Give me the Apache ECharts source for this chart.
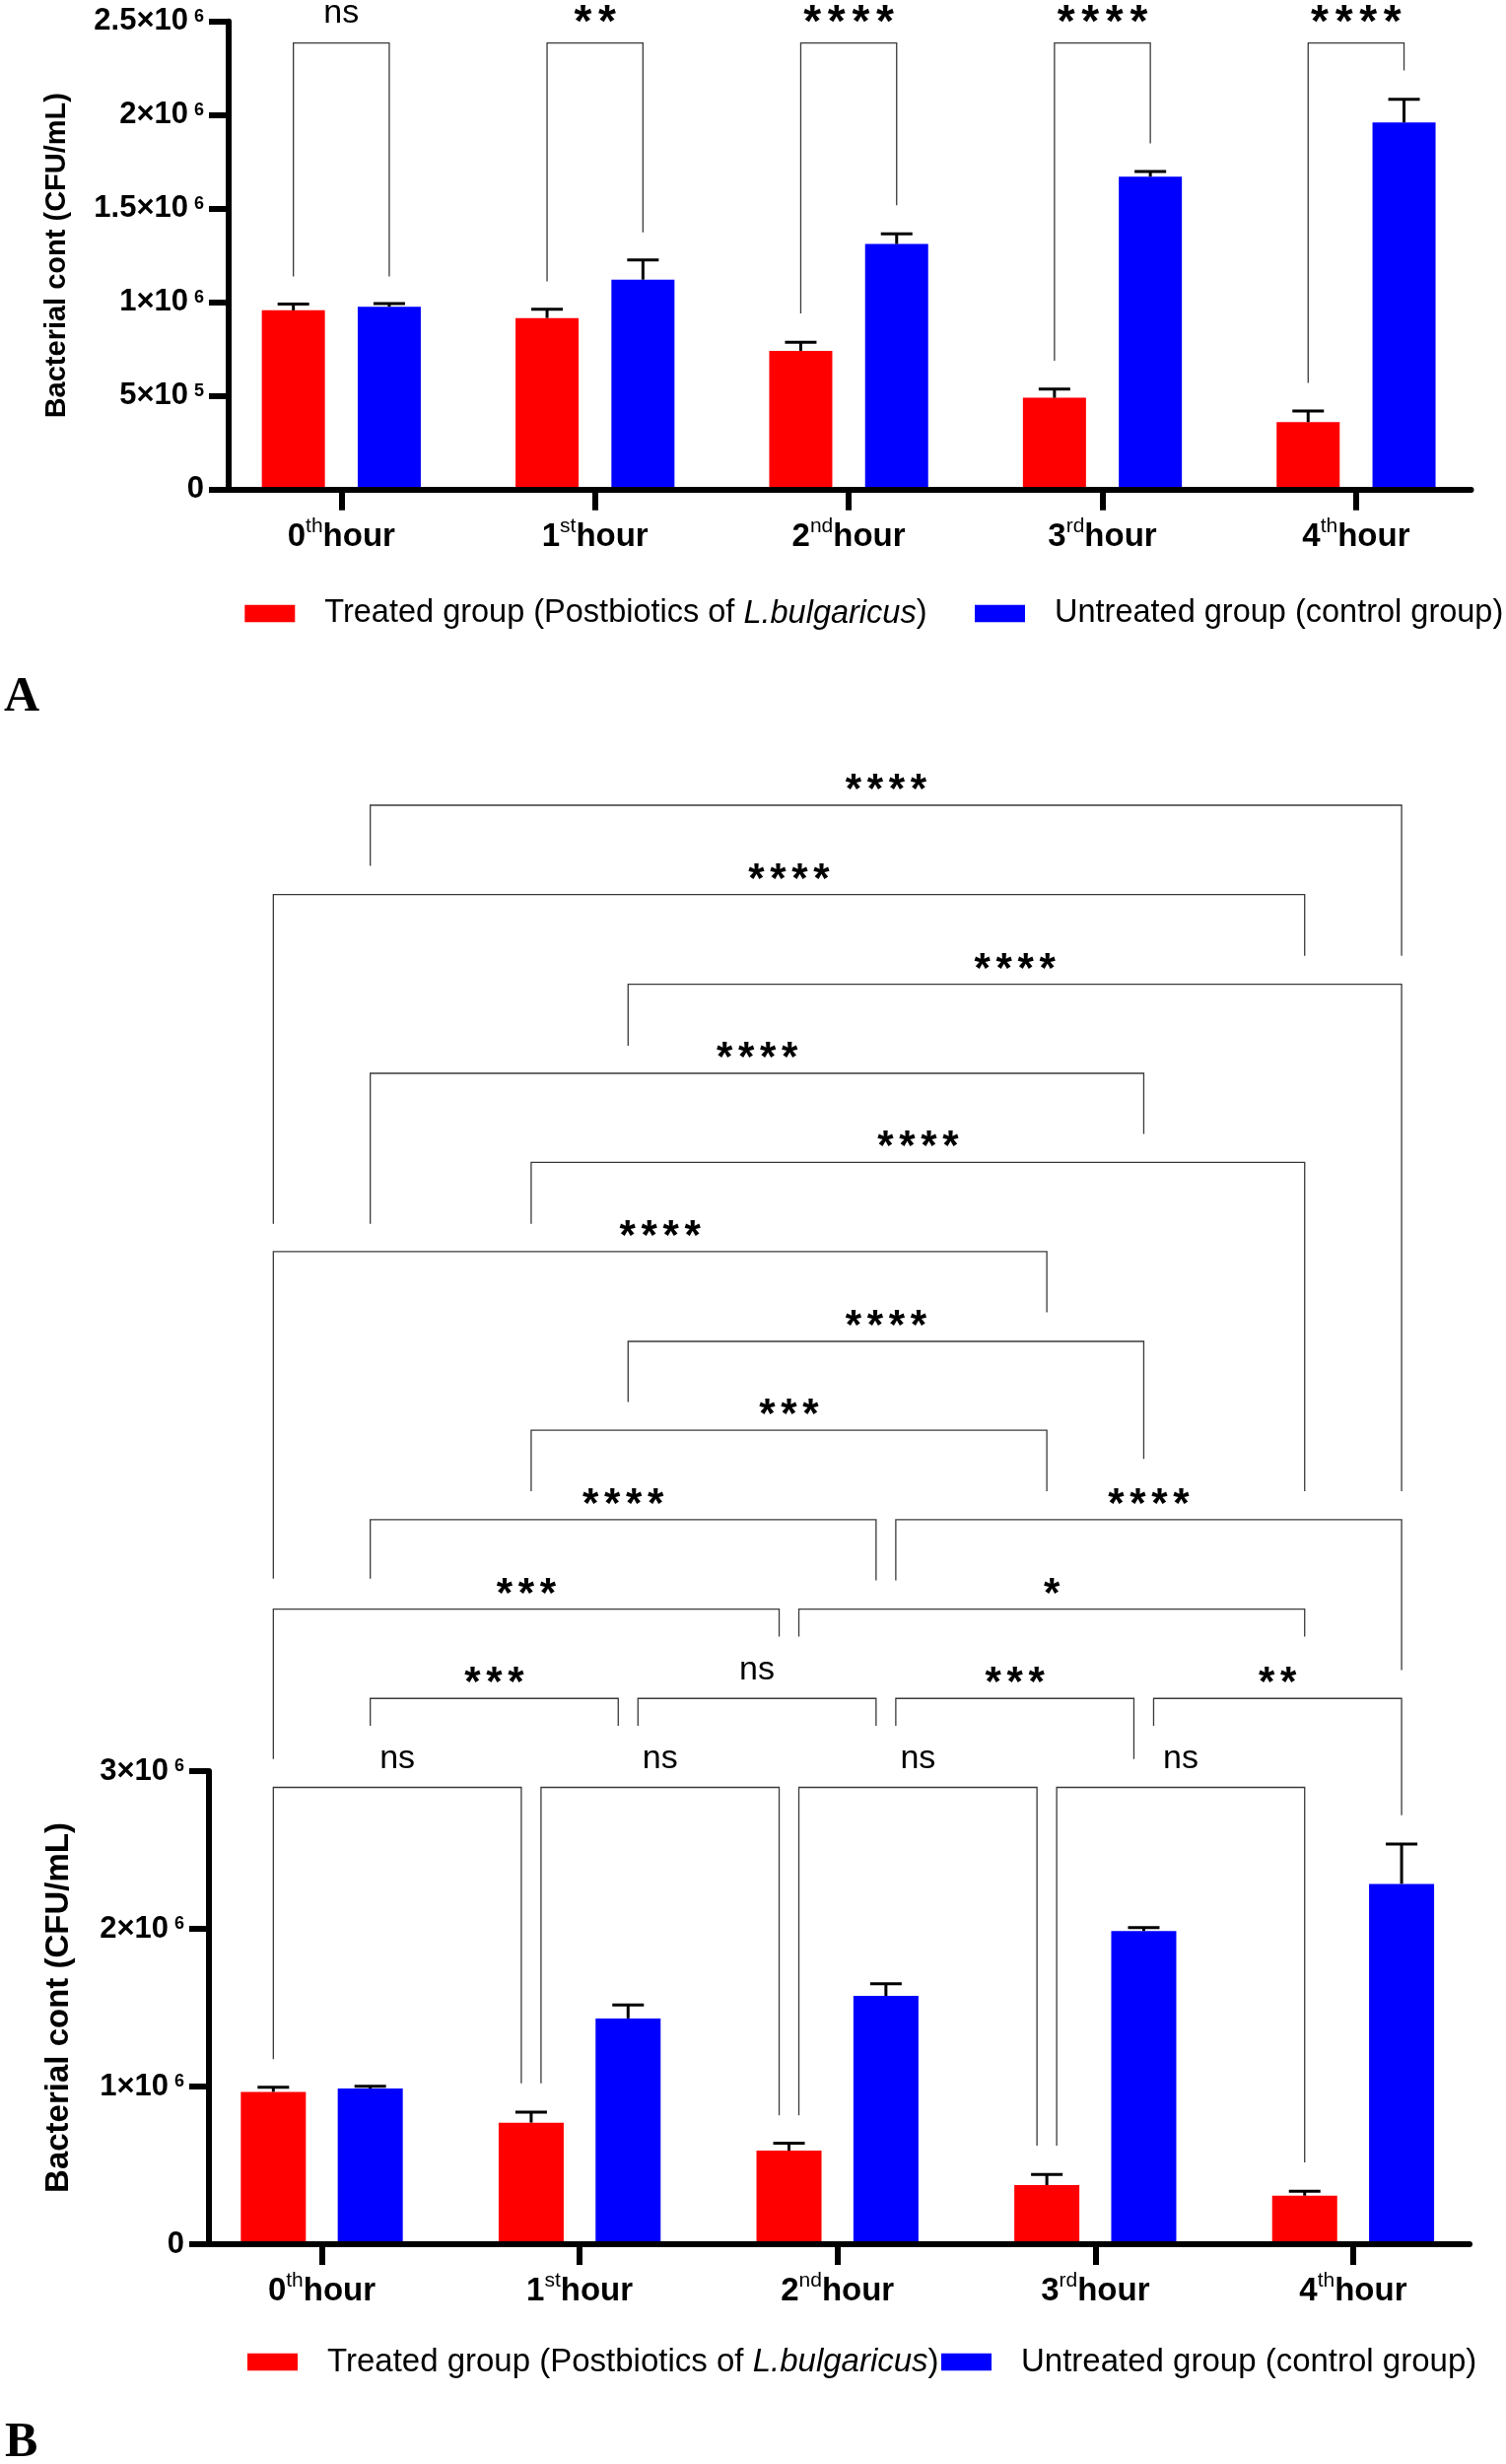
<!DOCTYPE html>
<html><head><meta charset="utf-8">
<script src="https://cdn.jsdelivr.net/npm/echarts@6/dist/echarts.min.js"></script>
<style>html,body{margin:0;padding:0;background:#fff}#c{width:1528px;height:2500px}</style>
</head><body><div id="c"></div>
<script>
// ---------- data ----------
const hours = ['0', '1', '2', '3', '4'];
const ordinalSuffix = ['th', 'st', 'nd', 'rd', 'th'];
const seriesNames = ['Treated group (Postbiotics of L.bulgaricus)', 'Untreated group (control group)'];

// Panel A
const treatedA = [957000, 916000, 741000, 490000, 360000];
const treatedA_sd = [34000, 47000, 46000, 47000, 59000];
const untreatedA = [976000, 1121000, 1311000, 1671000, 1960000];
const untreatedA_sd = [17000, 105000, 54000, 28000, 124000];
const yTicksA = [[0, '0', ''], [500000, '5×10', '5'], [1000000, '1×10', '6'], [1500000, '1.5×10', '6'], [2000000, '2×10', '6'], [2500000, '2.5×10', '6']];

// Panel B
const treatedB = [966000, 771000, 594000, 375000, 308000];
const treatedB_sd = [30000, 67000, 46000, 67000, 28000];
const untreatedB = [987000, 1432000, 1575000, 1986000, 2285000];
const untreatedB_sd = [15000, 85000, 76000, 22000, 252000];
const yTicksB = [[0, '0', ''], [1000000, '1×10', '6'], [2000000, '2×10', '6'], [3000000, '3×10', '6']];

// Significance brackets: [leftBar, leftShift, rightBar, rightShift, level, leftLegEnd, rightLegEnd, label]
// bar = hourIndex*2 + group (0 treated, 1 untreated); shift = -1/0/1 for shared legs
const bracketsA = [
  [0, 0, 1, 0, 2385000, 1138000, 1138000, 'ns'],
  [2, 0, 3, 0, 2385000, 1111000, 1374000, '**'],
  [4, 0, 5, 0, 2385000, 941000, 1518000, '****'],
  [6, 0, 7, 0, 2385000, 688000, 1849000, '****'],
  [8, 0, 9, 0, 2385000, 569000, 2238000, '****']
];
const bracketsB = [
  [1, 0, 9, 0, 9125000, 8740000, 8170000, '****'],
  [0, 0, 8, 0, 8558000, 6470000, 8170000, '****'],
  [3, 0, 9, 0, 7990000, 7600000, 4775000, '****'],
  [1, 0, 7, 0, 7425000, 6470000, 7040000, '****'],
  [2, 0, 8, 0, 6860000, 6470000, 4775000, '****'],
  [0, 0, 6, 0, 6294000, 4220000, 5910000, '****'],
  [3, 0, 7, 0, 5725000, 5340000, 4980000, '****'],
  [2, 0, 6, 0, 5162000, 4775000, 4775000, '***'],
  [1, 0, 5, -1, 4594000, 4220000, 4210000, '****'],
  [5, 1, 9, 0, 4594000, 4210000, 3640000, '****'],
  [0, 0, 4, -1, 4027000, 3077000, 3853000, '***'],
  [4, 1, 8, 0, 4027000, 3853000, 3853000, '*'],
  [1, 0, 3, -1, 3461000, 3287000, 3287000, '***'],
  [3, 1, 5, -1, 3461000, 3287000, 3287000, 'ns'],
  [5, 1, 7, -1, 3461000, 3287000, 3077000, '***'],
  [7, 1, 9, 0, 3461000, 3287000, 2721000, '**'],
  [0, 0, 2, -1, 2897000, 1173000, 1021000, 'ns'],
  [2, 1, 4, -1, 2897000, 1021000, 817000, 'ns'],
  [4, 1, 6, -1, 2897000, 817000, 625000, 'ns'],
  [6, 1, 8, 0, 2897000, 625000, 519000, 'ns']
];

// ---------- styles ----------
const FONT = "'Liberation Sans', Arial, sans-serif";
const SERIF = "'Liberation Serif', 'Times New Roman', serif";
const RED = '#ff0000', BLUE = '#0000ff';
const categories = hours.map((h, i) => h + ordinalSuffix[i] + 'hour');

function catAxis(grid) {
  return {
    type: 'category', gridIndex: grid, data: categories, boundaryGap: true,
    axisLine: { show: false },
    axisTick: { show: true, alignWithLabel: true, length: 21, lineStyle: { color: '#000', width: 6 } },
    axisLabel: {
      margin: 27, interval: 0,
      formatter: (v, i) => '{n|' + hours[i] + '}{s|' + ordinalSuffix[i] + '}{n|hour}',
      rich: {
        n: { fontFamily: FONT, fontSize: 33, fontWeight: 'bold', color: '#000', lineHeight: 42 },
        s: { fontFamily: FONT, fontSize: 21, color: '#000', lineHeight: 17, verticalAlign: 'top' }
      }
    },
    splitLine: { show: false }, z: 10
  };
}
function lineXAxis(grid) {
  return {
    type: 'value', gridIndex: grid, min: 0, max: 1, position: 'bottom',
    axisLine: { show: true, lineStyle: { color: '#000', width: 6 } },
    axisTick: { show: false }, axisLabel: { show: false }, splitLine: { show: false }, z: 10
  };
}
function hiddenY(grid, max) {
  return { type: 'value', gridIndex: grid, min: 0, max: max, show: false, splitLine: { show: false } };
}
function visibleY(grid, max, interval, ticks, nameSize, nameGap) {
  return {
    type: 'value', gridIndex: grid, min: 0, max: max, interval: interval,
    name: 'Bacterial cont (CFU/mL)', nameLocation: 'middle', nameRotate: 90, nameGap: nameGap,
    nameTextStyle: { fontFamily: FONT, fontSize: nameSize, fontWeight: 'bold', color: '#000' },
    axisLine: { show: true, lineStyle: { color: '#000', width: 6 } },
    axisTick: { show: true, length: 20, lineStyle: { color: '#000', width: 6 } },
    axisLabel: {
      margin: 25,
      formatter: (v) => {
        const t = ticks.find(k => Math.abs(k[0] - v) < 1);
        if (!t) return '';
        return t[2] ? '{b|' + t[1] + '}{s|' + t[2] + '}' : '{b|' + t[1] + '}';
      },
      rich: {
        b: { fontFamily: FONT, fontSize: 31, fontWeight: 'bold', color: '#000', lineHeight: 36 },
        s: { fontFamily: FONT, fontSize: 18, fontWeight: 'bold', color: '#000', lineHeight: 20, verticalAlign: 'top', padding: [4, 0, 0, 6] }
      }
    },
    splitLine: { show: false }, z: 10
  };
}
function barSeries(grid, name, data, color, barW, gap) {
  return {
    type: 'bar', name: name, xAxisIndex: grid, yAxisIndex: grid, data: data,
    barWidth: barW, barGap: gap, itemStyle: { color: color }, z: 2
  };
}
function errorSeries(grid, means, sds, side, barW, gapRatio) {
  return {
    type: 'custom', xAxisIndex: grid, yAxisIndex: grid, clip: false, silent: true, z: 3,
    data: means.map((m, i) => [i, m, sds[i]]),
    encode: { x: 0, y: 1 },
    renderItem: (params, api) => {
      const off = barW * (1 + gapRatio) / 2;
      const p0 = api.coord([api.value(0), api.value(1)]);
      const p1 = api.coord([api.value(0), api.value(1) + api.value(2)]);
      const x = p0[0] + side * off;
      const st = { stroke: '#000', lineWidth: 3 };
      return { type: 'group', children: [
        { type: 'line', shape: { x1: x, y1: p0[1], x2: x, y2: p1[1] }, style: st },
        { type: 'line', shape: { x1: x - 16, y1: p1[1], x2: x + 16, y2: p1[1] }, style: st }
      ] };
    }
  };
}
function bracketSeries(grid, brackets, barW, gapRatio, o) {
  return {
    type: 'custom', xAxisIndex: grid, yAxisIndex: grid, clip: false, silent: true, z: 5,
    data: brackets.map(b => [Math.floor(b[0] / 2), b[4]]),
    encode: { x: 0, y: 1 },
    renderItem: (params, api) => {
      const b = brackets[params.dataIndex];
      const off = barW * (1 + gapRatio) / 2;
      const bx = (bar, sh) => api.coord([Math.floor(bar / 2), 0])[0] + (bar % 2 ? off : -off) + sh * 10;
      const x1 = bx(b[0], b[1]), x2 = bx(b[2], b[3]);
      const yL = api.coord([0, b[4]])[1], y1 = api.coord([0, b[5]])[1], y2 = api.coord([0, b[6]])[1];
      const children = [{ type: 'polyline', shape: { points: [[x1, y1], [x1, yL], [x2, yL], [x2, y2]] },
        style: { stroke: '#3a3a3a', lineWidth: 1.3, fill: 'none' } }];
      const mid = (x1 + x2) / 2;
      const lab = b[7];
      if (lab === 'ns') {
        children.push({ type: 'text', x: mid, y: yL - o.nsOff,
          style: { text: 'ns', fontFamily: FONT, fontSize: o.nsSize, fill: '#000', align: 'center', verticalAlign: 'middle' } });
      } else {
        const n = lab.length;
        for (let k = 0; k < n; k++) {
          children.push({ type: 'text', x: mid + (k - (n - 1) / 2) * o.starAdv, y: yL - o.starOff,
            style: { text: '*', fontFamily: FONT, fontSize: o.starSize, fontWeight: 'bold', fill: '#000', align: 'center', verticalAlign: 'middle' } });
        }
      }
      return { type: 'group', children: children };
    }
  };
}
function legendItem(name, left, top, size) {
  return {
    data: [name], left: left, top: top, orient: 'horizontal', padding: 0,
    itemWidth: 51, itemHeight: 17.5, icon: 'rect', selectedMode: false,
    formatter: (n) => n.replace('L.bulgaricus', '{i|L.bulgaricus}'),
    textStyle: { fontFamily: FONT, fontSize: size, color: '#000', lineHeight: 34, padding: [0, 0, 0, 25],
      rich: { i: { fontFamily: FONT, fontSize: size, fontStyle: 'italic', color: '#000', lineHeight: 34 } } }
  };
}

const option = {
  animation: false,
  backgroundColor: '#fff',
  grid: [
    { left: 217.6, top: 21.7, width: 1287, height: 475 },
    { left: 232, top: 21.7, width: 1260.5, height: 475 },
    { left: 195.7, top: 1797, width: 1308, height: 480 },
    { left: 212, top: 1797, width: 1279, height: 480 }
  ],
  xAxis: [catAxis(0), lineXAxis(1), catAxis(2), lineXAxis(3)],
  yAxis: [
    hiddenY(0, 2500000),
    visibleY(1, 2500000, 500000, yTicksA, 29, 160),
    hiddenY(2, 3000000),
    visibleY(3, 3000000, 1000000, yTicksB, 33, 136)
  ],
  legend: [
    legendItem(seriesNames[0], 248.3, 605.5, 32.5),
    legendItem(seriesNames[1], 989, 605.5, 32.5),
    legendItem(seriesNames[0], 251, 2379.5, 33),
    legendItem(seriesNames[1], 955, 2379.5, 33)
  ],
  graphic: [
    { type: 'text', x: 4, y: 708.4, style: { text: 'A', fontFamily: SERIF, fontSize: 50, fontWeight: 'bold', fill: '#000', verticalAlign: 'middle' } },
    { type: 'text', x: 5, y: 2479.5, style: { text: 'B', fontFamily: SERIF, fontSize: 50, fontWeight: 'bold', fill: '#000', verticalAlign: 'middle' } }
  ],
  series: [
    barSeries(0, seriesNames[0], treatedA, RED, 64, '52%'),
    barSeries(0, seriesNames[1], untreatedA, BLUE, 64, '52%'),
    errorSeries(0, treatedA, treatedA_sd, -1, 64, 0.52),
    errorSeries(0, untreatedA, untreatedA_sd, 1, 64, 0.52),
    bracketSeries(0, bracketsA, 64, 0.52, { nsOff: 30, nsSize: 34, starOff: 18.9, starSize: 46, starAdv: 24.6 }),
    barSeries(2, seriesNames[0], treatedB, RED, 66, '49%'),
    barSeries(2, seriesNames[1], untreatedB, BLUE, 66, '49%'),
    errorSeries(2, treatedB, treatedB_sd, -1, 66, 0.49),
    errorSeries(2, untreatedB, untreatedB_sd, 1, 66, 0.49),
    bracketSeries(2, bracketsB, 66, 0.49, { nsOff: 29, nsSize: 34, starOff: 14.6, starSize: 42, starAdv: 22 })
  ]
};
const chart = echarts.init(document.getElementById('c'), null, { renderer: 'canvas' });
chart.setOption(option);
</script>
</body></html>
